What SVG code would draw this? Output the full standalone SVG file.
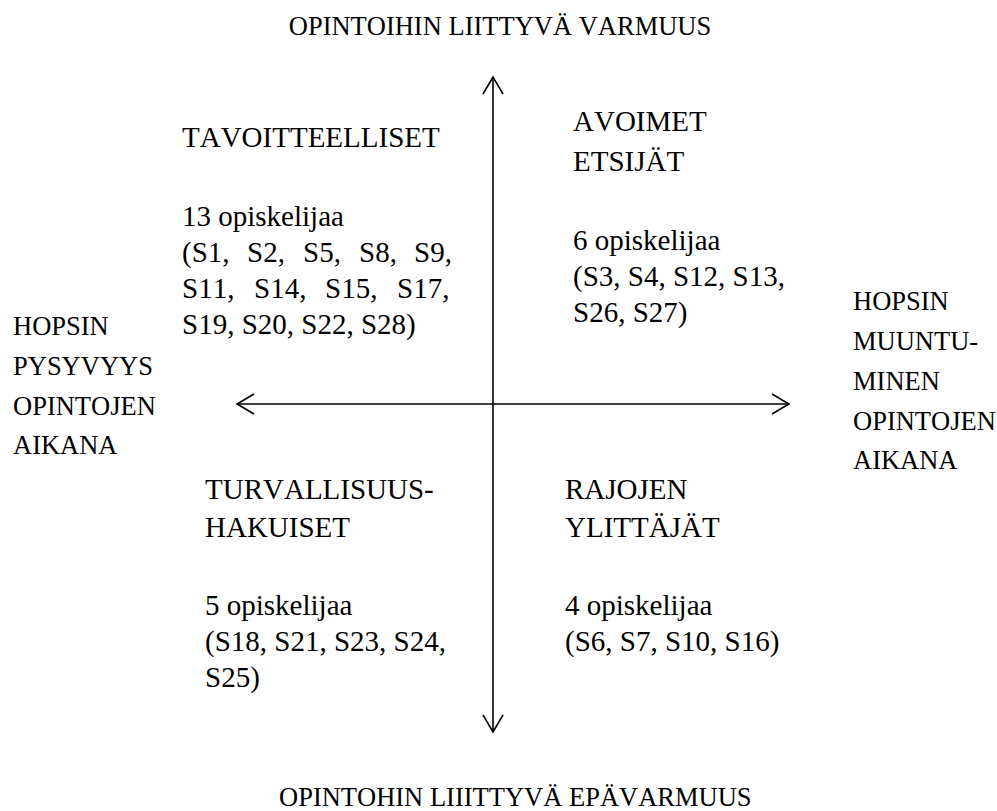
<svg xmlns="http://www.w3.org/2000/svg" width="997" height="811" viewBox="0 0 997 811">
  <style>
    text { font-family: "Liberation Serif", "Times New Roman", serif; font-size: 29px; fill: #000; font-kerning: none; }
    text.title, .side text { font-size: 26.5px; }
    .axis { stroke: #000; stroke-width: 1.6; fill: none; }
  </style>
  <defs>
    <marker id="open-arrow" viewBox="-20 -12 22 24" markerWidth="22" markerHeight="24" refX="0" refY="0" orient="auto-start-reverse" markerUnits="userSpaceOnUse">
      <path d="M-17,-10 L0,0 L-17,10" fill="none" stroke="#000" stroke-width="1.6"/>
    </marker>
  </defs>
  <rect width="997" height="811" fill="#fff"/>

  <!-- axes -->
  <g id="connectors">
    <line class="axis" x1="493" y1="732" x2="493" y2="77" marker-start="url(#open-arrow)" marker-end="url(#open-arrow)"/>
    <line class="axis" x1="237" y1="404" x2="789" y2="404" marker-start="url(#open-arrow)" marker-end="url(#open-arrow)"/>
  </g>

  <!-- axis labels -->
  <g id="label-top">
    <text class="title" x="500" y="35" text-anchor="middle">OPINTOIHIN LIITTYVÄ VARMUUS</text>
  </g>
  <g id="label-bottom">
    <text class="title" x="279" y="806">OPINTOHIN LIIITTYVÄ EPÄVARMUUS</text>
  </g>
  <g id="label-left" class="side">
    <text x="13" y="335">HOPSIN</text>
    <text x="13" y="375">PYSYVYYS</text>
    <text x="13" y="415">OPINTOJEN</text>
    <text x="13" y="454">AIKANA</text>
  </g>
  <g id="label-right" class="side">
    <text x="853" y="310">HOPSIN</text>
    <text x="853" y="350">MUUNTU-</text>
    <text x="853" y="390">MINEN</text>
    <text x="853" y="430">OPINTOJEN</text>
    <text x="853" y="469">AIKANA</text>
  </g>

  <!-- quadrants -->
  <g id="tavoitteelliset">
    <text x="182" y="147">TAVOITTEELLISET</text>
    <text x="182" y="226">13 opiskelijaa</text>
    <text y="262"><tspan x="182">(S1,</tspan><tspan x="247">S2,</tspan><tspan x="303">S5,</tspan><tspan x="359">S8,</tspan><tspan x="414">S9,</tspan></text>
    <text y="298"><tspan x="182">S11,</tspan><tspan x="254">S14,</tspan><tspan x="325">S15,</tspan><tspan x="397">S17,</tspan></text>
    <text x="182" y="334">S19, S20, S22, S28)</text>
  </g>
  <g id="avoimet-etsijat">
    <text x="573" y="131">AVOIMET</text>
    <text x="573" y="171">ETSIJÄT</text>
    <text x="573" y="250">6 opiskelijaa</text>
    <text x="573" y="286">(S3, S4, S12, S13,</text>
    <text x="573" y="322">S26, S27)</text>
  </g>
  <g id="turvallisuushakuiset">
    <text x="205" y="499">TURVALLISUUS-</text>
    <text x="205" y="537">HAKUISET</text>
    <text x="205" y="615">5 opiskelijaa</text>
    <text x="205" y="651">(S18, S21, S23, S24,</text>
    <text x="205" y="687">S25)</text>
  </g>
  <g id="rajojen-ylittajat">
    <text x="565" y="499">RAJOJEN</text>
    <text x="565" y="537">YLITTÄJÄT</text>
    <text x="565" y="615">4 opiskelijaa</text>
    <text x="565" y="651">(S6, S7, S10, S16)</text>
  </g>
</svg>
